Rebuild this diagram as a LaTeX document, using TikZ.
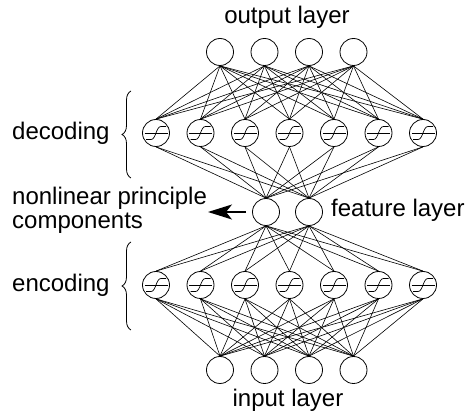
\documentclass[tikz,border=0pt]{standalone}
\usepackage{fontspec}
\setmainfont{Liberation Sans}
\usetikzlibrary{arrows.meta,decorations.pathreplacing}
\begin{document}
\begin{tikzpicture}[x=1pt,y=-1pt,
  neuron/.style={circle,draw,line width=0.8pt,minimum size=27pt,inner sep=0pt},
  sig/.style={neuron,path picture={
    \begin{scope}[shift={(path picture bounding box.center)}]
      \draw[line width=0.7pt] (-11.5,0) -- (11.5,0);
      \draw[line width=0.7pt] (-10,6.5) -- (-5,6.5) .. controls (0,6.5) and (0,-6.5) .. (5,-6.5) -- (10,-6.5);
    \end{scope}}},
  conn/.style={line width=0.6pt},
  lbl/.style={font=\fontsize{24}{24}\selectfont, inner sep=0pt},
  bracestyle/.style={decorate,decoration={brace,amplitude=9pt},line width=0.8pt},
]
\useasboundingbox (0,0) rectangle (467,414);

% layers
\foreach \i in {1,...,4} \node[neuron] (o\i) at ({175.5+44.5*\i},52) {};
\foreach \i in {1,...,7} \node[sig] (d\i) at ({111.5+44.5*\i},133) {};
\node[neuron] (f1) at (266,212) {};
\node[neuron] (f2) at (309,212) {};
\foreach \i in {1,...,7} \node[sig] (e\i) at ({111.5+44.5*\i},285) {};
\foreach \i in {1,...,4} \node[neuron] (n\i) at ({175.5+44.5*\i},370) {};

% connections
\foreach \i in {1,...,4} \foreach \j in {1,...,7} \draw[conn] (o\i.south) -- (d\j.north);
\foreach \i in {1,...,7} \foreach \j in {1,2} \draw[conn] (d\i.south) -- (f\j.north);
\foreach \i in {1,2} \foreach \j in {1,...,7} \draw[conn] (f\i.south) -- (e\j.north);
\foreach \i in {1,...,7} \foreach \j in {1,...,4} \draw[conn] (e\i.south) -- (n\j.north);

% labels
\node[lbl] (tout) at (287,17) {output layer};
\node[lbl] (tin) at (288,400) {input layer};
\node[lbl,anchor=west] (tdec) at (12,133) {decoding};
\node[lbl,anchor=west] (tenc) at (12,285) {encoding};
\node[lbl,anchor=west,align=left] (tnpc) at (12,210) {nonlinear principle\\components};
\node[lbl,anchor=west] (tfeat) at (331,210) {feature layer};

% braces
\draw[bracestyle] (131,178) -- (131,91);
\draw[bracestyle] (131,330) -- (131,242);

% arrow
\coordinate (atip) at (208,212);
\draw[-{Stealth[length=24pt,width=15pt,inset=6pt]},line width=1.2pt] ([xshift=-6pt]f1.west) -- (atip);
\end{tikzpicture}
\end{document}
